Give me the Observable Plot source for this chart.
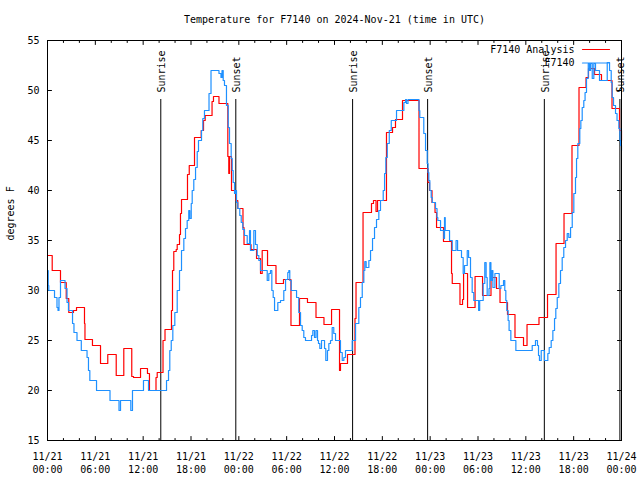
<!DOCTYPE html>
<html><head><meta charset="utf-8">
<script src="https://cdn.jsdelivr.net/npm/d3@7"></script>
<script src="https://cdn.jsdelivr.net/npm/@observablehq/plot@0.6"></script>
<style>html,body{margin:0;padding:0;background:#fff;} svg{display:block}</style>
</head><body><div id="chart"></div>
<script>
const titleText = "Temperature for F7140 on 2024-Nov-21 (time in UTC)";
const yLabel = "degrees F";
const seriesNames = ["F7140 Analysis", "F7140"];
const seriesColors = ["#ff0000", "#1e90ff"];

// hours since 11/21 00:00 UTC, temperature (F)
const analysisSeries = [[0.00,33.5],[0.59,32.0],[1.63,30.8],[2.35,29.2],[2.67,27.8],[3.26,28.0],[3.64,28.3],[4.64,26.7],[4.70,25.1],[5.64,24.5],[6.65,22.7],[7.56,23.6],[8.62,21.5],[9.57,24.2],[10.57,21.4],[10.79,21.3],[11.67,22.2],[12.54,21.7],[12.79,20.0],[13.61,21.3],[13.76,21.8],[14.49,25.0],[14.74,26.1],[15.55,28.0],[15.68,32.0],[15.84,33.9],[16.14,34.1],[16.27,34.6],[16.56,35.6],[16.68,37.7],[16.81,39.1],[17.56,41.6],[17.78,42.5],[18.44,45.3],[19.28,46.0],[19.57,47.0],[19.78,47.5],[20.64,48.9],[20.82,49.4],[21.51,48.7],[22.62,43.4],[22.74,41.7],[22.83,43.4],[23.08,40.0],[23.65,39.0],[23.87,38.2],[24.52,36.3],[24.65,34.6],[25.53,34.1],[26.22,33.2],[26.72,31.7],[26.93,34.0],[27.60,32.5],[28.66,30.7],[29.60,31.1],[30.54,26.5],[31.61,29.2],[32.61,28.8],[33.68,27.3],[34.68,26.6],[35.63,28.1],[36.63,22.0],[36.75,22.7],[37.63,23.6],[38.57,27.2],[38.70,30.8],[39.58,37.8],[40.64,38.7],[40.89,39.0],[41.21,37.9],[41.40,39.0],[42.52,45.8],[43.28,46.3],[43.65,47.1],[44.53,49.0],[46.60,42.2],[47.73,40.8],[47.92,40.0],[48.23,38.8],[48.61,37.8],[48.80,36.3],[49.67,34.9],[50.68,31.7],[50.77,30.7],[51.74,28.6],[52.06,29.1],[52.19,31.7],[52.69,28.3],[53.63,31.4],[54.57,29.5],[55.63,31.3],[56.32,30.2],[56.76,28.8],[57.70,27.6],[58.64,25.3],[59.71,24.5],[60.15,26.6],[61.65,27.3],[62.72,29.6],[63.79,34.7],[64.79,37.7],[65.79,44.5],[66.67,50.3],[67.55,51.3],[67.86,52.2],[68.62,51.6],[69.49,51.0],[70.81,48.2],[71.75,46.0],[72.0,45.0]];

const obsSeries = [[0.00,32],[0.09,30.5],[0.16,30],[0.88,29.3],[1.19,28.3],[1.32,28],[1.44,29.3],[1.63,31],[2.20,30.2],[2.45,28.8],[2.63,28],[3.14,26.7],[3.32,25.8],[3.70,25],[4.24,24],[4.96,23.3],[5.14,22],[5.31,21],[6.15,20],[7.84,19],[8.97,18],[9.16,19],[10.45,18],[10.66,20],[12.04,21],[12.67,20],[14.93,21],[15.18,22],[15.34,24],[15.52,25],[15.72,26.5],[15.97,27.8],[16.27,30],[16.56,32],[16.81,34],[17.10,35.2],[17.31,36.2],[17.52,37],[17.72,38],[17.85,37.2],[18.03,38.7],[18.15,40],[18.35,41.1],[18.57,42.3],[18.78,43.9],[18.94,45],[19.32,46],[19.48,47.2],[19.69,48],[20.26,49.7],[20.51,52],[21.51,51.7],[21.76,51.3],[21.89,52],[22.04,51],[22.20,50.5],[22.45,48.5],[22.67,46.3],[22.83,44.7],[23.04,43.2],[23.17,42],[23.29,40.8],[23.46,39.7],[23.58,40],[23.71,38.8],[23.87,38.2],[24.12,37.5],[24.30,36.8],[24.50,36.1],[24.71,35.5],[25.05,34.7],[25.34,36],[25.46,34],[25.88,36],[26.09,34.6],[26.31,33.5],[26.51,33],[26.72,32],[27.56,31],[27.76,31.7],[27.97,32],[28.14,30],[28.31,29.3],[28.48,28],[28.89,28.8],[29.23,29],[29.64,30],[29.86,31.1],[30.14,31.8],[30.27,32],[30.39,31],[30.57,30],[31.24,29.3],[31.52,27.8],[31.74,26.5],[31.95,26],[32.15,25.3],[32.36,25],[33.12,25.5],[33.28,26],[33.49,25.3],[33.68,26],[33.87,25],[33.99,24.7],[34.16,24.2],[34.37,25],[34.75,24.2],[34.91,23],[35.12,24],[35.29,24.7],[35.50,25],[35.71,26.3],[35.91,25.7],[36.13,25],[36.75,23.8],[36.97,23],[37.17,23.3],[37.38,24],[38.22,25],[38.64,26.7],[39.05,28.3],[39.26,29.3],[39.48,30.8],[39.68,32],[39.80,32.9],[39.97,32.3],[40.31,33],[40.52,34],[40.77,35.2],[41.02,36.3],[41.27,37.1],[41.56,38],[41.77,39],[42.11,40],[42.28,41.7],[42.44,43.3],[42.62,44.7],[42.87,46],[43.12,47],[43.78,48],[44.70,48.8],[44.91,49.1],[45.03,48.7],[45.22,49.1],[46.60,48],[46.70,47.3],[47.20,45.7],[47.42,44],[47.63,42.7],[47.73,41.8],[47.83,41],[47.96,40],[48.13,39.3],[48.26,38.8],[48.67,38.2],[48.86,37.3],[48.96,37],[49.30,36],[49.71,35.2],[49.80,37.3],[49.89,36],[50.43,35],[50.77,34],[51.25,35],[51.44,34],[51.93,33.3],[52.14,31.7],[52.31,32.5],[52.65,34],[52.82,33.3],[53.06,31.3],[53.27,29.8],[53.47,29],[54.08,28],[54.21,29],[54.65,30.7],[54.85,32.8],[55.02,31.3],[55.15,29.5],[55.38,30.2],[55.49,32.8],[55.62,31],[55.74,32],[55.87,30.3],[56.12,31.7],[56.66,30.2],[56.87,30.5],[57.20,31],[57.36,30],[57.49,29],[57.61,28],[57.78,27],[57.90,26],[58.12,25],[58.75,24],[60.80,24.5],[61.21,25],[61.46,24.5],[61.59,23.5],[61.71,23],[61.93,24],[62.34,23],[62.76,23.7],[62.93,24.3],[63.18,25],[63.39,26],[63.60,27.2],[63.76,28.2],[63.94,29.3],[64.14,30.7],[64.35,32],[64.56,33.3],[64.76,34.3],[64.98,35],[65.19,35.7],[65.39,35.3],[65.61,36.3],[65.82,37.8],[66.02,39.7],[66.23,41.3],[66.36,43.2],[66.52,44.7],[66.77,46.2],[66.90,47],[67.07,48.3],[67.27,49],[67.43,49.8],[67.61,51.2],[67.83,52.7],[67.99,52],[68.12,52.7],[68.33,51.2],[68.53,52.7],[68.74,52],[69.24,51],[70.21,52.8],[70.50,52],[70.71,50.8],[70.83,49.3],[71.00,48.5],[71.25,47.7],[71.44,47],[71.67,46.2],[71.80,45],[71.88,44.5],[72.0,44]];

const sunHours = [14.21, 23.62, 38.27, 47.68, 62.32, 71.80];
const sunLabels = ["Sunrise", "Sunset", "Sunrise", "Sunset", "Sunrise", "Sunset"];

const yTicks = [15, 20, 25, 30, 35, 40, 45, 50, 55];
const xTickHours = [0, 6, 12, 18, 24, 30, 36, 42, 48, 54, 60, 66, 72];
const xTickLabels = ["11/21\n00:00","11/21\n06:00","11/21\n12:00","11/21\n18:00","11/22\n00:00","11/22\n06:00","11/22\n12:00","11/22\n18:00","11/23\n00:00","11/23\n06:00","11/23\n12:00","11/23\n18:00","11/24\n00:00"];
const xMinorHours = [2,4,8,10,14,16,20,22,26,28,32,34,38,40,44,46,50,52,56,58,62,64,68,70];

const analysis = analysisSeries.map(([h, t]) => ({h, t}));
const obs = obsSeries.map(([h, t]) => ({h, t}));
const sun = sunHours.map((h, i) => ({h, label: sunLabels[i]}));

const tickLine = {draw(ctx, l) { ctx.moveTo(0, 0); ctx.lineTo(0, -l); }};
const FONT = "'DejaVu Sans Mono', 'Liberation Mono', monospace";
const tk = {stroke: "#000", fill: "none", strokeWidth: 1, anchor: "start", shape: tickLine};

const chart = Plot.plot({
  width: 640, height: 480,
  marginLeft: 47, marginRight: 19, marginTop: 40, marginBottom: 40,
  style: {fontFamily: FONT, fontSize: "10px", background: "#fff", color: "#000"},
  x: {domain: [0, 72]},
  y: {domain: [15, 55]},
  marks: [
    Plot.axisY({ticks: yTicks, tickSize: 0, tickPadding: 8, label: null, fontSize: 10}),
    Plot.axisX({ticks: xTickHours, tickSize: 0, tickPadding: 10, label: null, fontSize: 10, lineHeight: 1.3,
      tickFormat: d => xTickLabels[xTickHours.indexOf(d)]}),
    Plot.vectorY(yTicks, {y: d => d, frameAnchor: "left", rotate: 90, length: 4, ...tk}),
    Plot.vectorY(yTicks, {y: d => d, frameAnchor: "right", rotate: -90, length: 4, ...tk}),
    Plot.vectorX(xTickHours, {x: d => d, frameAnchor: "bottom", rotate: 0, length: 4, ...tk}),
    Plot.vectorX(xTickHours, {x: d => d, frameAnchor: "top", rotate: 180, length: 4, ...tk}),
    Plot.vectorX(xMinorHours, {x: d => d, frameAnchor: "bottom", rotate: 0, length: 2, ...tk}),
    Plot.vectorX(xMinorHours, {x: d => d, frameAnchor: "top", rotate: 180, length: 2, ...tk}),
    Plot.ruleX(sun, {x: "h", stroke: "#000", strokeWidth: 1, insetTop: 59}),
    Plot.text(sun, {x: "h", text: "label", frameAnchor: "top", rotate: -90, textAnchor: "start", lineAnchor: "middle", dy: 52, dx: 1, fontSize: 10, fill: "#000"}),
    Plot.line(analysis, {x: "h", y: "t", curve: "step-after", stroke: seriesColors[0], strokeWidth: 1.2}),
    Plot.line(obs, {x: "h", y: "t", curve: "step-after", stroke: seriesColors[1], strokeWidth: 1.2}),
    Plot.frame({stroke: "#000", strokeWidth: 1}),
    Plot.text([titleText], {frameAnchor: "top", dy: -21, lineAnchor: "middle", fontSize: 10, fill: "#000"}),
    Plot.text([yLabel], {frameAnchor: "left", dx: -37, rotate: -90, lineAnchor: "middle", fontSize: 10, fill: "#000"}),
    Plot.text([seriesNames[0]], {frameAnchor: "top-right", dx: -47, dy: 9, textAnchor: "end", lineAnchor: "middle", fontSize: 10, fill: "#000"}),
    Plot.text([seriesNames[1]], {frameAnchor: "top-right", dx: -47, dy: 22.5, textAnchor: "end", lineAnchor: "middle", fontSize: 10, fill: "#000"}),
    Plot.vector([0], {frameAnchor: "top-right", dx: -12, dy: 9, rotate: -90, length: 27, ...tk, stroke: seriesColors[0], strokeWidth: 1.2}),
    Plot.vector([0], {frameAnchor: "top-right", dx: -12, dy: 22.5, rotate: -90, length: 27, ...tk, stroke: seriesColors[1], strokeWidth: 1.2})
  ]
});
document.getElementById("chart").appendChild(chart);
</script>
</body></html>
